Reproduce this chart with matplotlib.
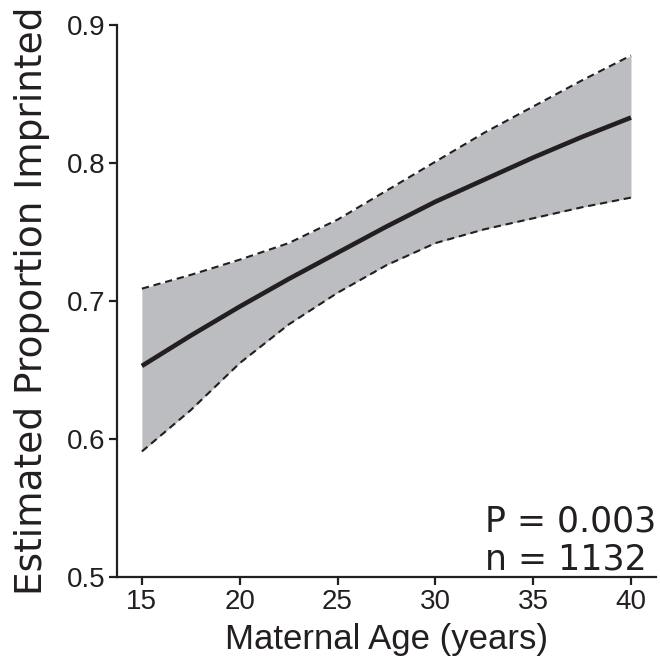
import numpy as np
from matplotlib import pyplot as pl
import matplotlib

matplotlib.rcParams.update({'font.size': 16, 'font.family': ['Liberation Sans', 'DejaVu Sans']})

# values, every 2.5 years
age = [15, 17.5, 20, 22.5, 25, 27.5, 30, 32.5, 35, 37.5, 40]
est = [0.653, 0.675, 0.696, 0.716, 0.735, 0.754, 0.772, 0.788, 0.804, 0.819, 0.833]
upper = [0.709, 0.719, 0.730, 0.742, 0.759, 0.780, 0.801, 0.822, 0.841, 0.860, 0.878]
lower = [0.591, 0.621, 0.655, 0.683, 0.706, 0.726, 0.742, 0.752, 0.760, 0.768, 0.775]

xTicks = [15, 20, 25, 30, 35, 40]
yTicks = [0.5, 0.6, 0.7, 0.8, 0.9]

fillCol = '#bcbdc0'
lineCol = '#231f20'

fig = pl.figure(figsize=(6.6, 6.61), dpi=100)
ax = fig.add_axes([0.177, 0.127, 0.817, 0.835])

ax.fill_between(age, lower, upper, color=fillCol, lw=0)
ax.plot(age, upper, ls=(0, (3.5, 2.3)), lw=1.5, c=lineCol)
ax.plot(age, lower, ls=(0, (3.5, 2.3)), lw=1.5, c=lineCol)
ax.plot(age, est, lw=3.3, c=lineCol, solid_capstyle='butt')

ax.set_xlim(13.72, 41.28)
ax.set_ylim(0.5, 0.9)
ax.set_xticks(xTicks)
ax.set_yticks(yTicks)
ax.set_yticklabels(['%.1f' % v for v in yTicks])

for s in ['top', 'right']:
  ax.spines[s].set_visible(False)
for s in ['left', 'bottom']:
  ax.spines[s].set_linewidth(1.6)
  ax.spines[s].set_color(lineCol)
ax.tick_params(direction='out', length=5.5, width=1.6, color=lineCol,
  labelsize=20, labelcolor=lineCol, pad=3)

ax.set_xlabel('Maternal Age (years)', fontsize=25, color=lineCol, labelpad=6)
ax.set_ylabel('Estimated Proportion Imprinted', fontsize=27, color=lineCol,
  family='DejaVu Sans', labelpad=12)

ax.text(0.683, 0.083, 'P = 0.003', transform=ax.transAxes, va='baseline',
  ha='left', fontsize=25, family='DejaVu Sans', color=lineCol)
ax.text(0.683, 0.0145, 'n = 1132', transform=ax.transAxes, va='baseline',
  ha='left', fontsize=25, family='DejaVu Sans', color=lineCol)

fig.savefig('out.png', dpi=100)
